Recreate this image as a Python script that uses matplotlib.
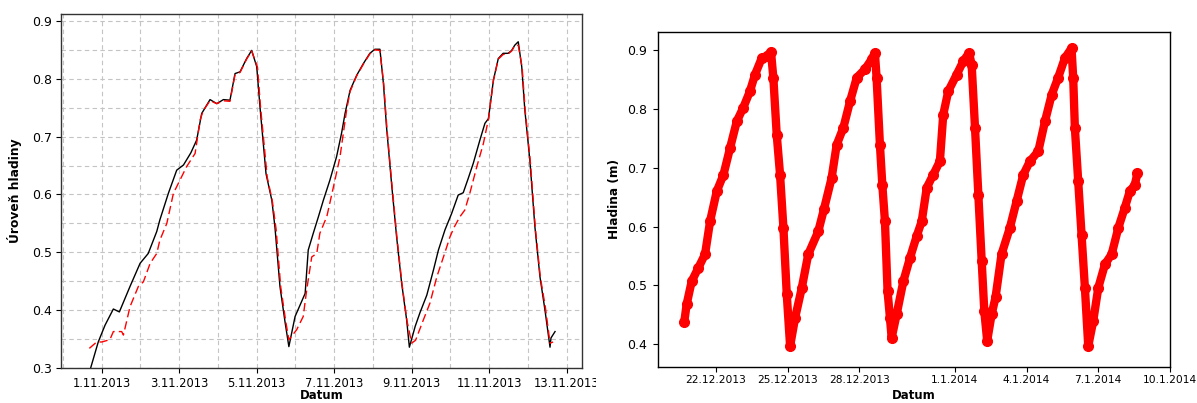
import numpy as np
import pandas as pd
import matplotlib
matplotlib.use("Agg")
import matplotlib.pyplot as plt
import matplotlib.dates as mdates
from matplotlib.ticker import MultipleLocator, FuncFormatter, FixedLocator
from matplotlib.transforms import Bbox

plt.rcParams['font.family'] = ['DejaVu Sans']

# ---- left chart: days after 1.11.2013 ----
mer_t = [-0.33, -0.09, 0.085, 0.30, 0.455, 0.73, 0.99, 1.20, 1.42, 1.50, 1.72, 1.935, 2.11, 2.30,
         2.45, 2.58, 2.795, 2.97, 3.14, 3.31, 3.44, 3.57, 3.74, 3.87, 4.00, 4.085, 4.17, 4.24, 4.39,
         4.47, 4.60, 4.73, 4.83, 4.99, 5.25, 5.33, 5.46, 5.59, 5.72, 5.89, 6.06, 6.19, 6.28, 6.41,
         6.58, 6.75, 6.92, 7.05, 7.18, 7.27, 7.35, 7.48, 7.61, 7.74, 7.87, 7.94, 8.09, 8.21, 8.39,
         8.56, 8.69, 8.86, 9.03, 9.20, 9.33, 9.46, 9.59, 9.76, 9.89, 9.98, 10.11, 10.235, 10.36,
         10.49, 10.58, 10.66, 10.75, 10.84, 10.92, 11.05, 11.18, 11.31, 11.44, 11.57, 11.595, 11.70]
mer_h = [0.290, 0.345, 0.374, 0.402, 0.397, 0.441, 0.481, 0.498, 0.536, 0.556, 0.602, 0.642, 0.651,
         0.672, 0.694, 0.740, 0.764, 0.757, 0.764, 0.763, 0.809, 0.812, 0.835, 0.849, 0.821, 0.751,
         0.688, 0.636, 0.590, 0.544, 0.441, 0.380, 0.337, 0.389, 0.429, 0.504, 0.533, 0.561, 0.590,
         0.625, 0.665, 0.706, 0.740, 0.780, 0.806, 0.826, 0.844, 0.851, 0.851, 0.792, 0.717, 0.619,
         0.527, 0.447, 0.383, 0.336, 0.372, 0.395, 0.426, 0.469, 0.504, 0.539, 0.567, 0.599, 0.603,
         0.628, 0.654, 0.694, 0.723, 0.731, 0.798, 0.835, 0.844, 0.844, 0.849, 0.858, 0.864, 0.821,
         0.746, 0.659, 0.544, 0.458, 0.400, 0.336, 0.352, 0.363]

mod_t = [-0.32, -0.13, 0.0, 0.21, 0.30, 0.515, 0.56, 0.73, 0.945, 1.075, 1.25, 1.42, 1.50, 1.68,
         1.85, 2.02, 2.19, 2.41, 2.54, 2.62, 2.795, 2.97, 3.14, 3.31, 3.44, 3.57, 3.74, 3.87, 4.02,
         4.10, 4.20, 4.27, 4.40, 4.50, 4.62, 4.75, 4.83, 5.03, 5.20, 5.29, 5.42, 5.55, 5.63, 5.81,
         5.98, 6.15, 6.32, 6.41, 6.58, 6.75, 6.92, 7.05, 7.18, 7.28, 7.36, 7.49, 7.62, 7.75, 7.88,
         8.00, 8.10, 8.30, 8.47, 8.65, 8.82, 8.99, 9.10, 9.25, 9.37, 9.50, 9.68, 9.85, 9.98, 10.11,
         10.235, 10.36, 10.49, 10.58, 10.66, 10.75, 10.85, 10.93, 11.06, 11.19, 11.32, 11.40, 11.45,
         11.57, 11.65]
mod_h = [0.334, 0.345, 0.345, 0.349, 0.363, 0.363, 0.357, 0.406, 0.441, 0.449, 0.481, 0.498, 0.521,
         0.550, 0.602, 0.625, 0.648, 0.671, 0.729, 0.745, 0.762, 0.757, 0.762, 0.761, 0.807, 0.811,
         0.834, 0.848, 0.820, 0.750, 0.680, 0.630, 0.590, 0.540, 0.440, 0.380, 0.349, 0.366, 0.389,
         0.435, 0.492, 0.498, 0.533, 0.562, 0.613, 0.665, 0.746, 0.778, 0.805, 0.825, 0.843, 0.850,
         0.849, 0.790, 0.715, 0.617, 0.525, 0.445, 0.381, 0.343, 0.348, 0.383, 0.412, 0.458, 0.492,
         0.527, 0.544, 0.562, 0.573, 0.602, 0.648, 0.688, 0.730, 0.797, 0.834, 0.842, 0.843, 0.848,
         0.857, 0.858, 0.820, 0.745, 0.658, 0.543, 0.457, 0.425, 0.405, 0.343, 0.345]

left_ticks = ["2013-11-01", "2013-11-03", "2013-11-05", "2013-11-07",
              "2013-11-09", "2013-11-11", "2013-11-13"]

# ---- right chart: days after 22.12.2013 ----
hl_t = [-1.33, -1.23, -1.02, -0.74, -0.46, -0.25, 0.03, 0.31, 0.59, 0.87, 1.14, 1.42, 1.63, 1.91,
        2.12, 2.30, 2.40, 2.54, 2.68, 2.82, 2.96, 3.10, 3.31, 3.59, 3.86, 4.28, 4.52, 4.84, 5.05,
        5.33, 5.61, 5.89, 6.23, 6.51, 6.65, 6.72, 6.86, 6.96, 7.07, 7.18, 7.28, 7.35, 7.56, 7.84,
        8.12, 8.40, 8.61, 8.82, 9.09, 9.37, 9.51, 9.72, 10.07, 10.35, 10.59, 10.70, 10.84, 10.98,
        11.12, 11.23, 11.35, 11.535, 11.70, 11.95, 12.30, 12.58, 12.86, 13.14, 13.49, 13.77, 14.05,
        14.32, 14.60, 14.88, 14.95, 15.02, 15.16, 15.30, 15.44, 15.58, 15.79, 16.00, 16.28, 16.56,
        16.84, 17.11, 17.32, 17.53, 17.64]
hl_h = [0.438, 0.468, 0.507, 0.530, 0.553, 0.609, 0.660, 0.688, 0.734, 0.779, 0.802, 0.830, 0.858,
        0.886, 0.889, 0.897, 0.852, 0.756, 0.688, 0.598, 0.485, 0.397, 0.445, 0.496, 0.553, 0.592,
        0.630, 0.683, 0.739, 0.768, 0.813, 0.853, 0.867, 0.884, 0.895, 0.853, 0.739, 0.671, 0.609,
        0.490, 0.445, 0.411, 0.451, 0.507, 0.547, 0.584, 0.609, 0.666, 0.688, 0.711, 0.790, 0.830,
        0.858, 0.881, 0.895, 0.875, 0.768, 0.654, 0.541, 0.456, 0.406, 0.451, 0.480, 0.553, 0.598,
        0.643, 0.688, 0.711, 0.728, 0.779, 0.824, 0.853, 0.886, 0.903, 0.853, 0.768, 0.677, 0.586,
        0.496, 0.397, 0.440, 0.496, 0.536, 0.553, 0.598, 0.632, 0.660, 0.671, 0.691]

right_ticks = ["2013-12-22", "2013-12-25", "2013-12-28", "2014-01-01",
               "2014-01-04", "2014-01-07", "2014-01-10"]

start_l = pd.Timestamp("2013-11-01")
start_r = pd.Timestamp("2013-12-22")


def to_dates(base, days):
    return base + pd.to_timedelta(np.array(days), unit="D")


def dfmt(x, pos):
    d = mdates.num2date(x)
    return f"{d.day}.{d.month}.{d.year}"


fig = plt.figure(figsize=(11.97, 4.03), dpi=100)

# ---------------- left ----------------
ax1 = fig.add_axes([0.0510, 0.0868, 0.4352, 0.8785])
ax1.plot(to_dates(start_l, mer_t), mer_h, color="black", lw=1.0)
ax1.plot(to_dates(start_l, mod_t), mod_h, color="red", lw=1.0, dashes=(6, 3))

ax1.set_xlim(mdates.date2num(start_l - pd.Timedelta(days=1.05)),
             mdates.date2num(start_l + pd.Timedelta(days=12.395)))
ax1.set_ylim(0.3, 0.912)
ax1.xaxis.set_major_locator(FixedLocator(mdates.date2num(pd.to_datetime(left_ticks))))
ax1.xaxis.set_minor_locator(mdates.DayLocator())
ax1.xaxis.set_major_formatter(FuncFormatter(dfmt))
ax1.yaxis.set_major_locator(MultipleLocator(0.1))
ax1.yaxis.set_minor_locator(MultipleLocator(0.05))
ax1.yaxis.set_major_formatter(FuncFormatter(lambda v, p: f"{v:.1f}"))
ax1.set_axisbelow(True)
ax1.grid(which="both", color="#c4c4c4", linestyle=(0, (4, 3)), lw=0.8)
ax1.tick_params(which="major", direction="out", length=3.5, width=0.8, pad=3)
ax1.tick_params(axis="x", which="major", labelsize=8.3)
ax1.tick_params(axis="y", which="major", labelsize=9)
ax1.tick_params(which="minor", length=0)
for s in ax1.spines.values():
    s.set_color("#333333")
    s.set_linewidth(1.0)
ax1.set_xlabel("Datum", fontsize=8.5, fontweight="bold")
ax1.set_ylabel("Úroveň hladiny", fontsize=8.8, fontweight="bold")
ax1.xaxis.set_label_coords(0.5, -0.06)
ax1.yaxis.set_label_coords(-0.075, 0.5)

# ---------------- right ----------------
ax2 = fig.add_axes([0.5495, 0.0901, 0.4279, 0.8312])
ax2.plot(to_dates(start_r, hl_t), hl_h, color="red", lw=6, marker="o", ms=7,
         solid_capstyle="round", solid_joinstyle="round")
ax2.set_xlim(mdates.date2num(start_r - pd.Timedelta(days=2.44)),
             mdates.date2num(start_r + pd.Timedelta(days=19)))
ax2.set_ylim(0.362, 0.931)
ax2.xaxis.set_major_locator(FixedLocator(mdates.date2num(pd.to_datetime(right_ticks))))
ax2.xaxis.set_major_formatter(FuncFormatter(dfmt))
ax2.yaxis.set_major_locator(MultipleLocator(0.1))
ax2.yaxis.set_major_formatter(FuncFormatter(lambda v, p: f"{v:.1f}"))
ax2.tick_params(direction="out", length=3.5, width=0.8)
ax2.tick_params(axis="x", labelsize=7.7, pad=2.5)
ax2.tick_params(axis="y", labelsize=9, pad=4)
for s in ax2.spines.values():
    s.set_color("black")
    s.set_linewidth(1.0)
ax2.set_xlabel("Datum", fontsize=8.5, fontweight="bold")
ax2.set_ylabel("Hladina (m)", fontsize=8.7, fontweight="bold")
ax2.xaxis.set_label_coords(0.5, -0.068)
ax2.yaxis.set_label_coords(-0.072, 0.5)

# the left picture is cut at its right border
fig.canvas.draw()
lab = ax1.xaxis.get_major_ticks()[-1].label1
lab.set_clip_box(Bbox.from_extents(0, 0, 596, 403))
lab.set_clip_on(True)

fig.savefig("out.png", dpi=100)
